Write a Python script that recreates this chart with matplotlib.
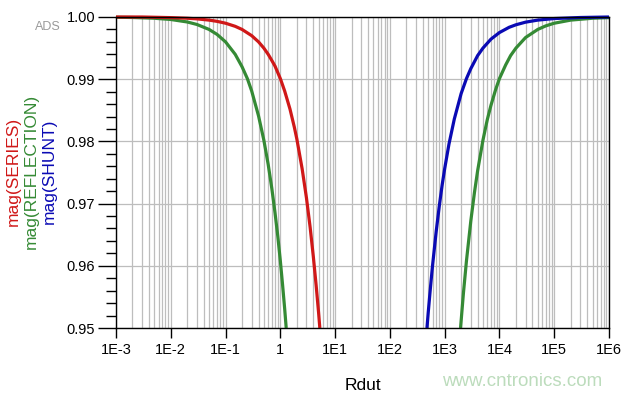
import matplotlib
matplotlib.use("Agg")
import matplotlib.pyplot as plt
from matplotlib.ticker import FixedLocator, NullFormatter, LogLocator

plt.rcParams['font.family'] = ['Liberation Sans', 'DejaVu Sans']

# Data
series_x = [1e-3, 3e-3, 1e-2, 0.02, 0.03, 0.05, 0.07, 0.1, 0.15, 0.2, 0.3, 0.4, 0.5, 0.6, 0.7, 0.8,
            1.0, 1.2, 1.5, 1.8, 2.0, 2.5, 3.0, 3.5, 4.0, 4.5, 5.0, 5.26]
series_y = [1.0, 1.0, 0.9999, 0.9998, 0.9997, 0.9995, 0.9993, 0.999, 0.9985, 0.998, 0.997, 0.996,
            0.995, 0.994, 0.993, 0.9921, 0.9901, 0.9881, 0.9852, 0.9823, 0.9804, 0.9756, 0.9709,
            0.9662, 0.9615, 0.9569, 0.9524, 0.95]

refl_lo_x = [1e-3, 2e-3, 5e-3, 1e-2, 0.02, 0.03, 0.05, 0.07, 0.1, 0.15, 0.2, 0.25, 0.3, 0.4, 0.5,
             0.6, 0.7, 0.8, 0.9, 1.0, 1.1, 1.2, 1.28]
refl_lo_y = [0.99996, 0.99992, 0.9998, 0.9996, 0.9992, 0.9988, 0.998, 0.9972, 0.996, 0.9940,
             0.9920, 0.9901, 0.9881, 0.9841, 0.9802, 0.9763, 0.9724, 0.9685, 0.9647, 0.9608,
             0.9569, 0.9531, 0.95]
refl_hi_x = [1950, 2000, 2200, 2500, 3000, 3500, 4000, 5000, 6000, 7000, 8500, 1e4, 1.3e4, 1.6e4,
             2e4, 3e4, 5e4, 7e4, 1e5, 2e5, 5e5, 1e6]
refl_hi_y = [0.95, 0.9512, 0.9556, 0.9608, 0.9672, 0.9718, 0.9753, 0.9802, 0.9835, 0.9858, 0.9883,
             0.9901, 0.9923, 0.9938, 0.9950, 0.9967, 0.9980, 0.99857, 0.9990, 0.9995, 0.9998, 0.9999]

shunt_x = [475, 500, 550, 600, 700, 800, 900, 1000, 1200, 1500, 2000, 2500, 3000, 4000, 5000, 7000,
           1e4, 1.5e4, 2e4, 3e4, 5e4, 1e5, 3e5, 1e6]
shunt_y = [0.95, 0.9524, 0.9565, 0.96, 0.9655, 0.9697, 0.9730, 0.9756, 0.9796, 0.9836, 0.9877,
           0.9901, 0.9917, 0.9938, 0.9950, 0.99644, 0.9975, 0.99834, 0.99875, 0.99917, 0.9995,
           0.99975, 0.99992, 1.0]

x_ticks = [1e-3, 1e-2, 1e-1, 1, 1e1, 1e2, 1e3, 1e4, 1e5, 1e6]
x_ticklabels = ["1E-3", "1E-2", "1E-1", "1", "1E1", "1E2", "1E3", "1E4", "1E5", "1E6"]
y_ticks = [0.95, 0.96, 0.97, 0.98, 0.99, 1.00]
y_ticklabels = ["0.95", "0.96", "0.97", "0.98", "0.99", "1.00"]

RED = "#d01818"
GREEN = "#358a35"
BLUE = "#0a0ab4"

fig = plt.figure(figsize=(6.24, 3.96), dpi=100)
ax = fig.add_axes([116/624, 68/396, (609-116)/624, (328-17)/396])

lw = 2.3
ax.plot(refl_lo_x, refl_lo_y, color=GREEN, lw=lw, clip_on=False, solid_capstyle='butt')
ax.plot(refl_hi_x, refl_hi_y, color=GREEN, lw=lw, clip_on=False, solid_capstyle='butt')
ax.plot(series_x, series_y, color=RED, lw=lw, clip_on=False, solid_capstyle='butt')
ax.plot(shunt_x, shunt_y, color=BLUE, lw=lw, clip_on=False, solid_capstyle='butt')

ax.set_xscale('log')
ax.set_xlim(1e-3, 1e6)
ax.set_ylim(0.95, 1.00)

ax.set_xticks(x_ticks)
ax.set_xticklabels(x_ticklabels)
ax.xaxis.set_minor_locator(LogLocator(base=10, subs=range(2, 10), numticks=100))
ax.xaxis.set_minor_formatter(NullFormatter())
ax.set_yticks(y_ticks)
ax.set_yticklabels(y_ticklabels)
ax.yaxis.set_minor_locator(FixedLocator([0.95 + 0.002*i for i in range(26)]))

ax.tick_params(axis='x', which='major', direction='out', length=7, width=1, labelsize=10.5, pad=4)
ax.tick_params(axis='x', which='minor', length=0)
ax.tick_params(axis='y', which='major', direction='out', length=13, width=1, labelsize=10.5, pad=2)
ax.tick_params(axis='y', which='minor', direction='out', length=7, width=1)

ax.grid(True, which='major', axis='both', color='#bdbdbd', lw=0.9)
ax.grid(True, which='minor', axis='x', color='#bdbdbd', lw=0.9)
ax.set_axisbelow(True)
for s in ax.spines.values():
    s.set_color('black')
    s.set_linewidth(1)

# axis labels
fig.text(363/624, 1 - 386/396, "Rdut", fontsize=12.5, ha='center', va='center')
fig.text(13/624, 1 - 171/396, "mag(SERIES)", color=RED, fontsize=12.5, rotation=90, ha='center', va='center')
fig.text(31/624, 1 - 171/396, "mag(REFLECTION)", color=GREEN, fontsize=12.5, rotation=90, ha='center', va='center')
fig.text(49/624, 1 - 171/396, "mag(SHUNT)", color=BLUE, fontsize=12.5, rotation=90, ha='center', va='center')
fig.text(48/624, 1 - 27/396, "ADS", color='#9a9a9a', fontsize=9, ha='center', va='center')
fig.text(522/624, 1 - 381/396, "www.cntronics.com", color='#bcdcbc', fontsize=13.5, ha='center', va='center')

fig.savefig("out.png", dpi=100)
